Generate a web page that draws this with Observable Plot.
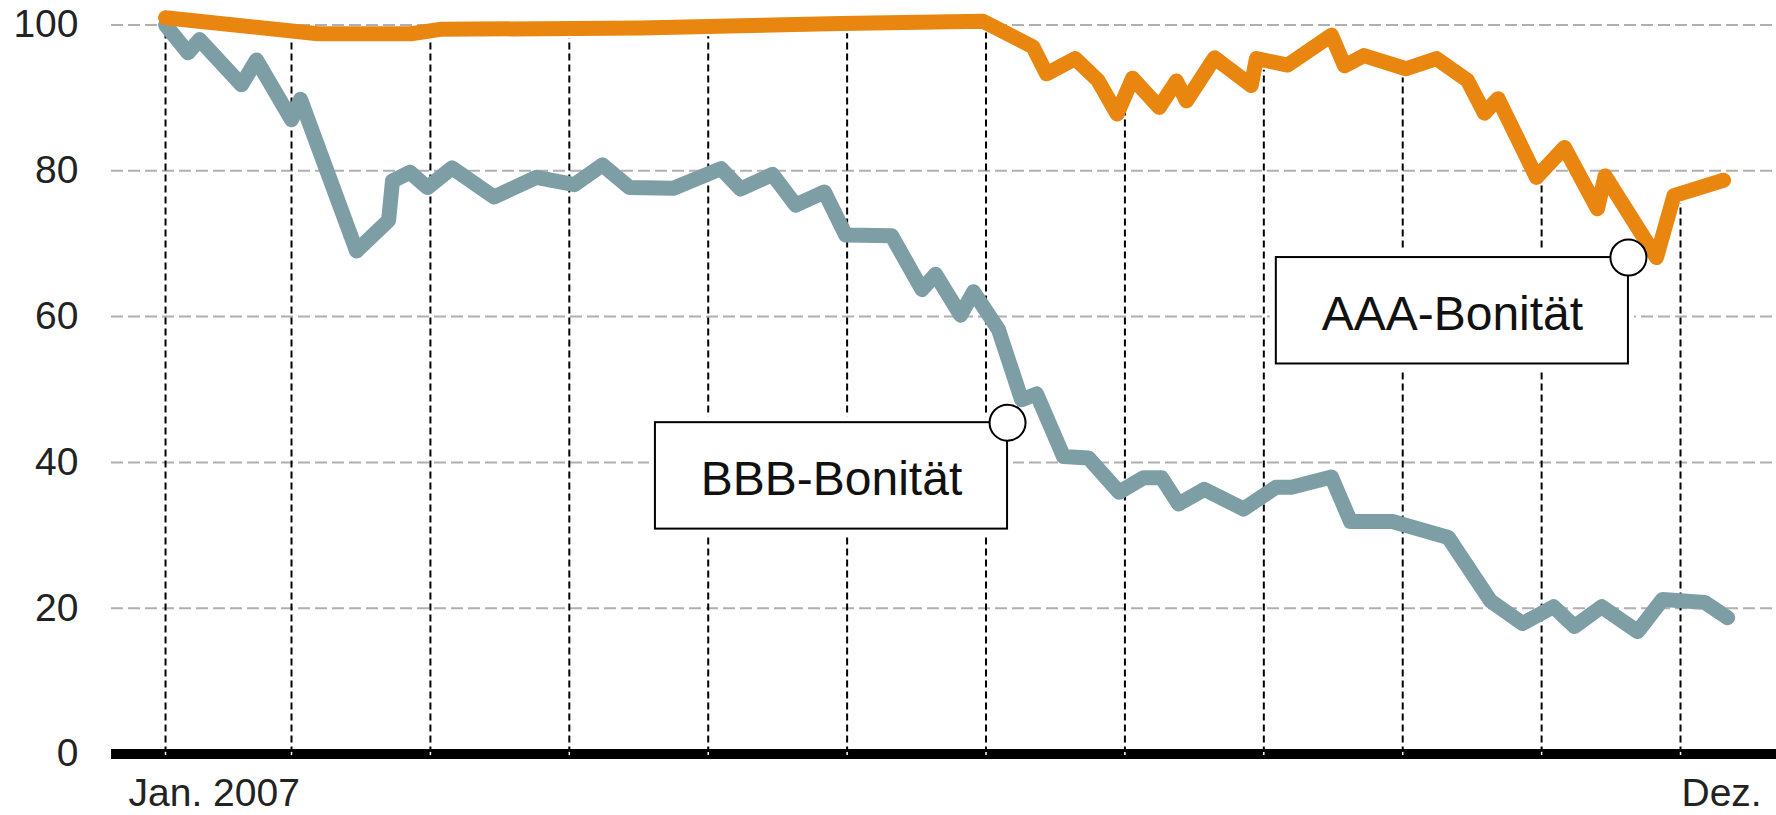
<!DOCTYPE html>
<html>
<head>
<meta charset="utf-8">
<script src="https://cdn.jsdelivr.net/npm/d3@7"></script>
<script src="https://cdn.jsdelivr.net/npm/@observablehq/plot@0.6"></script>
<style>
  html, body { margin: 0; padding: 0; background: #fff; }
  #chart svg { display: block; }
</style>
</head>
<body>
<div id="chart"></div>
<script>
// x values: position in months since 1 Jan 2007 (0 = Jan, 11 = Dez.)
const bbbMonth = [0.093,0.255,0.338,0.640,0.748,1.000,1.065,1.468,1.699,1.727,1.853,1.979,2.156,2.459,2.762,3.037,3.239,3.433,3.750,4.092,4.233,4.463,4.629,4.837,4.989,5.320,5.539,5.637,5.817,5.910,6.090,6.256,6.364,6.558,6.738,6.958,7.134,7.264,7.386,7.572,7.854,8.088,8.200,8.487,8.624,8.926,9.328,9.632,9.863,10.086,10.237,10.432,10.691,10.871,11.173,11.339];
const bbbValue = [100,96.2,98.0,91.8,95.2,87.0,89.8,69.0,73.2,78.6,79.8,77.7,80.4,76.4,79.1,78.1,80.8,77.7,77.6,80.3,77.5,79.5,75.3,77.1,71.2,71.1,63.7,65.8,60.2,63.4,58.2,48.6,49.4,40.8,40.6,35.9,37.9,37.9,34.3,36.3,33.6,36.6,36.6,38.0,31.9,31.9,29.7,21.0,17.9,20.2,17.5,20.2,16.8,21.2,20.8,18.7];

const aaaMonth = [0.093,1.190,1.860,2.070,3.512,4.952,5.980,6.338,6.436,6.641,6.806,6.944,7.055,7.247,7.371,7.443,7.645,7.909,7.947,8.171,8.487,8.581,8.721,9.024,9.243,9.466,9.589,9.686,9.963,10.165,10.402,10.457,10.827,10.953,11.310];
const aaaValue = [101.0,98.8,98.8,99.4,99.6,100.2,100.5,97.0,93.3,95.4,92.4,87.8,92.7,88.7,92.3,89.6,95.5,91.7,95.4,94.5,98.6,94.4,95.8,94.0,95.4,92.4,87.9,89.9,79.1,83.2,74.8,79.3,68.1,76.6,78.7];

const yTicks = [0, 20, 40, 60, 80, 100];
const gridValues = [20, 40, 60, 80, 100];
const monthLines = [bbbMonth[0], 1, 2, 3, 4, 5, 6, 7, 8, 9, 10, 11];

const xLabelText = ["Jan. 2007", "Dez."];
const xLabelMonth = [bbbMonth[0], 11];

const seriesNames = ["BBB-Bonität", "AAA-Bonität"];
const annoMonth = [6.155, 10.625];   // anchor (circle) of each label box
const annoValue = [45.45, 68.1];

// ---- build tables ----
const bbb = bbbMonth.map((m, i) => ({m, v: bbbValue[i]}));
const aaa = aaaMonth.map((m, i) => ({m, v: aaaValue[i]}));
const annos = seriesNames.map((name, i) => ({name, m: annoMonth[i], v: annoValue[i]}));
const xLabels = xLabelText.map((t, i) => ({t, m: xLabelMonth[i]}));
const aaaAt = d3.scaleLinear(aaaMonth, aaaValue);

const boxW = 2.535, boxH = 14.6;
const font = "'Liberation Sans', Arial, sans-serif";

const chart = Plot.plot({
  width: 1776,
  height: 815,
  marginLeft: 111,
  marginRight: 0,
  marginTop: 24.5,
  marginBottom: 61.5,
  style: {fontFamily: font, fontSize: "39px", color: "#222", background: "white", overflow: "visible"},
  x: {domain: [-0.296, 11.691], axis: null},
  y: {domain: [0, 100], axis: null},
  marks: [
    Plot.ruleY(gridValues, {stroke: "#b0b0b0", strokeWidth: 2, strokeDasharray: "12,5"}),
    Plot.ruleX(monthLines, {x: d => d, y1: 0, y2: d => aaaAt(d) - 1.4, stroke: "#000", strokeWidth: 2, strokeDasharray: "7,4"}),
    Plot.ruleY([0], {stroke: "#000", strokeWidth: 10}),
    Plot.ruleX(monthLines, {x: d => d, y1: -0.22, y2: 0.22, stroke: "#fff", strokeWidth: 1.5}),
    Plot.axisY(yTicks, {tickSize: 0, tickPadding: 33, fontSize: 39, fill: "#222", label: null}),
    Plot.text(xLabels.slice(0, 1), {x: "m", y: 0, text: "t", textAnchor: "start", lineAnchor: "bottom", dx: -37, dy: 52, fontSize: 39, fill: "#222"}),
    Plot.text(xLabels.slice(1), {x: "m", y: 0, text: "t", textAnchor: "start", lineAnchor: "bottom", dx: 1, dy: 52, fontSize: 39, fill: "#222"}),
    Plot.line(bbb, {x: "m", y: "v", stroke: "#7e9ea6", strokeWidth: 15, strokeLinecap: "round", strokeLinejoin: "round"}),
    Plot.line(aaa, {x: "m", y: "v", stroke: "#e8860f", strokeWidth: 15, strokeLinecap: "round", strokeLinejoin: "round"}),
    Plot.rect(annos, {x1: d => d.m - boxW, x2: "m", y1: d => d.v - boxH, y2: "v", fill: "white", inset: -6}),
    Plot.rect(annos, {x1: d => d.m - boxW, x2: "m", y1: d => d.v - boxH, y2: "v", fill: "white", stroke: "#000", strokeWidth: 2}),
    Plot.dot(annos, {x: "m", y: "v", r: 18, fill: "white", stroke: "#000", strokeWidth: 2}),
    Plot.text(annos, {x: d => d.m - boxW / 2, y: d => d.v - boxH / 2, text: "name", fontSize: 48, dy: 4, fill: "#111", ariaLabel: "anno"})
  ]
});

d3.select(chart).selectAll("g[aria-label='anno'] text").style("letter-spacing", "1.5px");

document.getElementById("chart").appendChild(chart);
</script>
</body>
</html>
